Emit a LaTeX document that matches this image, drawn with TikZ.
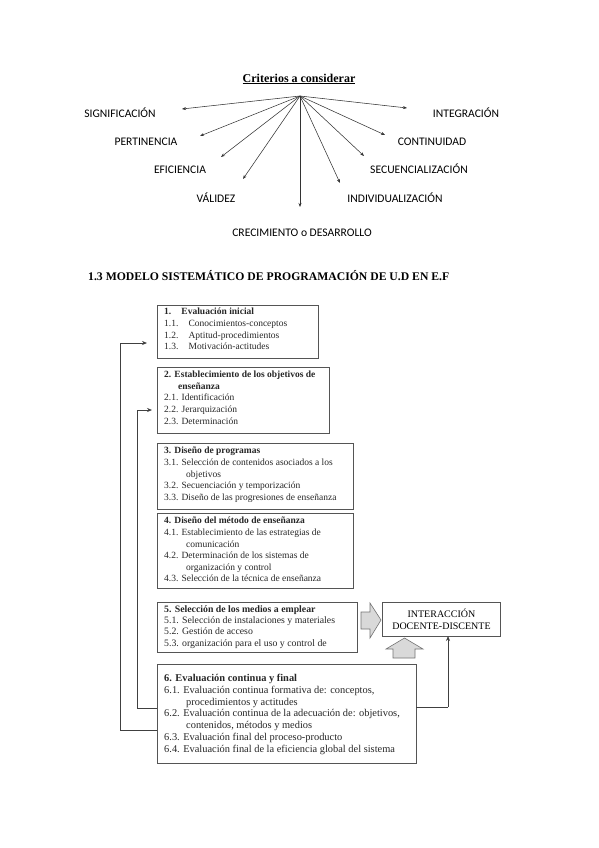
\documentclass[tikz,border=0pt]{standalone}
\usepackage{fontspec}
\setmainfont{Liberation Serif}
\newfontfamily\calfont{Carlito}
\usetikzlibrary{arrows.meta}
\definecolor{boxline}{HTML}{555555}
\definecolor{arrowfill}{HTML}{D9D9D9}
\begin{document}
\begin{tikzpicture}[x=1pt,y=-1pt,
  crit/.style={font=\calfont\fontsize{11.6}{13}\selectfont, inner sep=0pt},
  spoke/.style={draw=black!80, line width=0.55pt, -{Stealth[length=4pt,width=3pt]}},
  boxnode/.style={draw=boxline, line width=0.9pt},
  boxtext/.style={font=\rmfamily\fontsize{9.5}{11.6}\selectfont, align=left, inner sep=0pt, anchor=north west, text=black!85},
  fb/.style={draw=black!75, line width=0.7pt},
  fbarrow/.style={draw=black!75, line width=0.7pt, -{Stealth[length=5pt,width=4pt]}},
  bigarrow/.style={draw=black!55, line width=0.6pt, fill=arrowfill}
]
\useasboundingbox (0,0) rectangle (599,848);
% ---- top part
\node[font=\rmfamily\bfseries\fontsize{12}{14}\selectfont, inner sep=0pt] (title) at (299,79) {\underline{Criterios a considerar}};
\coordinate (hub) at (300,96);
\node[crit] (sig) at (120,113) {SIGNIFICACIÓN};
\node[crit] (int) at (466,113) {INTEGRACIÓN};
\node[crit] (per) at (146,142) {PERTINENCIA};
\node[crit] (con) at (432,142) {CONTINUIDAD};
\node[crit] (efi) at (180,170) {EFICIENCIA};
\node[crit] (sec) at (419,169) {SECUENCIALIZACIÓN};
\node[crit] (val) at (216,198) {VÁLIDEZ};
\node[crit] (ind) at (395,198) {INDIVIDUALIZACIÓN};
\node[crit] (cre) at (302,233) {CRECIMIENTO o DESARROLLO};
\coordinate (esig) at (182,109);
\coordinate (eint) at (407,108);
\coordinate (eper) at (200,136);
\coordinate (econ) at (385,135);
\coordinate (eefi) at (221,157);
\coordinate (esec) at (364,156);
\coordinate (eval) at (243,179);
\coordinate (eind) at (340,183);
\coordinate (ecre) at (300,207);
\foreach \e in {esig,eint,eper,econ,eefi,esec,eval,eind,ecre}
  \draw[spoke] (hub) -- (\e);
% ---- heading
\node[font=\rmfamily\bfseries\fontsize{11.7}{13}\selectfont, inner sep=0pt, anchor=west] (head) at (88,276) {1.3 MODELO SISTEMÁTICO DE PROGRAMACIÓN DE U.D EN E.F};
% ---- boxes
\draw[boxnode] (157,305) rectangle (318,358);
\node[boxtext] (t1) at (164,308) {\textbf{1.\hspace{7pt} Evaluación inicial}\\
1.1.\hspace{7pt} Conocimientos-conceptos\\
1.2.\hspace{7pt} Aptitud-procedimientos\\
1.3.\hspace{7pt} Motivación-actitudes};
\coordinate (b1w) at (157,343);

\draw[boxnode] (157,367) rectangle (329,433);
\node[boxtext] (t2) at (164,371) {\textbf{2. Establecimiento de los objetivos de}\\
\hspace*{14pt}\textbf{enseñanza}\\
2.1. Identificación\\
2.2. Jerarquización\\
2.3. Determinación};
\coordinate (b2w) at (157,410);

\draw[boxnode] (157,443) rectangle (353,509);
\node[boxtext] (t3) at (164,447) {\textbf{3. Diseño de programas}\\
3.1. Selección de contenidos asociados a los\\
\hspace*{22pt}objetivos\\
3.2. Secuenciación y temporización\\
3.3. Diseño de las progresiones de enseñanza};

\draw[boxnode] (157,513) rectangle (353,588);
\node[boxtext] (t4) at (164,517) {\textbf{4. Diseño del método de enseñanza}\\
4.1. Establecimiento de las estrategias de\\
\hspace*{22pt}comunicación\\
4.2. Determinación de los sistemas de\\
\hspace*{22pt}organización y control\\
4.3. Selección de la técnica de enseñanza};

\draw[boxnode] (157,602) rectangle (357,652);
\node[boxtext, font=\rmfamily\fontsize{9.8}{11.4}\selectfont] (t5) at (164,605) {\textbf{5. Selección de los medios a emplear}\\
5.1. Selección de instalaciones y materiales\\
5.2. Gestión de acceso\\
5.3. organización para el uso y control de};

\draw[boxnode] (157,664) rectangle (416,763);
\node[boxtext, font=\rmfamily\fontsize{10.4}{11.8}\selectfont] (t6) at (164,674) {\textbf{6. Evaluación continua y final}\\
6.1. Evaluación continua formativa de: conceptos,\\
\hspace*{22pt}procedimientos y actitudes\\
6.2. Evaluación continua de la adecuación de: objetivos,\\
\hspace*{22pt}contenidos, métodos y medios\\
6.3. Evaluación final del proceso-producto\\
6.4. Evaluación final de la eficiencia global del sistema};

% interaction box
\node[draw=boxline, line width=0.9pt, minimum width=118pt, minimum height=34pt, inner sep=0pt, anchor=north west,
      font=\rmfamily\fontsize{10}{11.6}\selectfont, align=center] (inter) at (382,602) {INTERACCIÓN\\DOCENTE-DISCENTE};

% gray block arrows
\draw[bigarrow] (361,612) -- (370,612) -- (370,603) -- (381,620) -- (370,638) -- (370,629) -- (361,629) -- cycle;
\draw[bigarrow] (393,658) -- (393,649) -- (386,649) -- (404.5,638) -- (423,649) -- (415,649) -- (415,658) -- cycle;

% feedback lines
\draw[fb] (157,730) -- (120,730) -- (120,343);
\draw[fbarrow] (120,343) -- ([xshift=-10pt]b1w);
\draw[fb] (157,708) -- (137,708) -- (137,410);
\draw[fbarrow] (137,410) -- ([xshift=-5pt]b2w);
\draw[fb] (416,707) -- (448,707);
\draw[fbarrow] (448,707) -- (448,636);
\end{tikzpicture}
\end{document}
